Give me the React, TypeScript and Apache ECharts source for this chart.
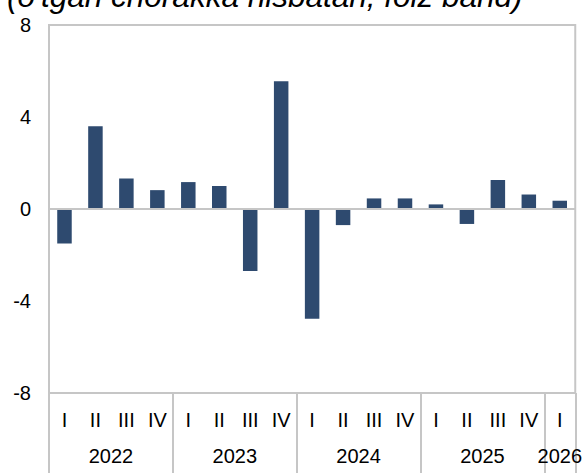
import React, { useEffect, useRef } from "react";
import * as echarts from "echarts";

const categories = [
  "2022 I", "2022 II", "2022 III", "2022 IV",
  "2023 I", "2023 II", "2023 III", "2023 IV",
  "2024 I", "2024 II", "2024 III", "2024 IV",
  "2025 I", "2025 II", "2025 III", "2025 IV",
  "2026 I",
];
const values = [
  -1.5, 3.6, 1.33, 0.82,
  1.17, 1.0, -2.7, 5.55,
  -4.77, -0.7, 0.46, 0.46,
  0.2, -0.65, 1.26, 0.63,
  0.36,
];
const yTicks = { min: -8, max: 8, interval: 4 };
const titleText = "(o'tgan chorakka nisbatan, foiz band)";

const quarterOf = (c: string) => c.split(" ")[1];
const yearOf = (c: string) => c.split(" ")[0];

// year label placement (derived from categories)
const yearLabelAt: Record<number, string> = {};
{
  let i = 0;
  while (i < categories.length) {
    const y = yearOf(categories[i]);
    let j = i;
    while (j < categories.length && yearOf(categories[j]) === y) j++;
    const count = j - i;
    if (count % 2 === 0) yearLabelAt[i + count / 2 - 1] = `{s|${y}}`;
    else yearLabelAt[i + (count - 1) / 2] = `{c|${y}}`;
    i = j;
  }
}
const yearStart = (idx: number) =>
  idx === 0 || yearOf(categories[idx]) !== yearOf(categories[idx - 1]);

const FONT = "'Liberation Sans', Arial, sans-serif";
const GRAY = "#c6c6c6";

export default function App() {
  const ref = useRef<HTMLDivElement>(null);
  useEffect(() => {
    if (!ref.current) return;
    const chart = echarts.init(ref.current, null, { renderer: "svg" });
    chart.setOption({
      animation: false,
      backgroundColor: "#ffffff",
      grid: {
        left: 49,
        right: 9,
        top: 25,
        bottom: 80,
        show: true,
        borderColor: GRAY,
        borderWidth: 2,
        containLabel: false,
      },
      graphic: [
        {
          type: "text",
          left: 7,
          top: -20,
          style: {
            text: titleText,
            font: `italic 31.5px ${FONT}`,
            fill: "#000",
          },
        },
      ],
      xAxis: [
        {
          type: "category",
          data: categories,
          position: "bottom",
          boundaryGap: true,
          axisLine: { show: false, onZero: false },
          axisTick: {
            show: true,
            interval: (idx: number) => yearStart(idx),
            length: 80,
            lineStyle: { color: GRAY, width: 2 },
          },
          axisLabel: {
            interval: 0,
            margin: 17,
            fontSize: 20,
            fontFamily: FONT,
            color: "#000",
            formatter: (v: string) => quarterOf(v),
          },
          splitLine: { show: false },
        },
        {
          type: "category",
          data: categories,
          position: "bottom",
          boundaryGap: true,
          axisLine: { show: false, onZero: false },
          axisTick: { show: false },
          axisLabel: {
            interval: 0,
            margin: 53,
            fontSize: 20,
            fontFamily: FONT,
            color: "#000",
            formatter: (_v: string, idx: number) => yearLabelAt[idx] || "",
            rich: {
              s: { fontSize: 20, fontFamily: FONT, color: "#000", padding: [0, 0, 0, 31] },
              c: { fontSize: 20, fontFamily: FONT, color: "#000" },
            },
          },
          splitLine: { show: false },
        },
      ],
      yAxis: {
        type: "value",
        min: yTicks.min,
        max: yTicks.max,
        interval: yTicks.interval,
        axisLine: { show: false },
        axisTick: { show: false },
        splitLine: { show: false },
        axisLabel: {
          margin: 18,
          fontSize: 20,
          fontFamily: FONT,
          color: "#000",
        },
      },
      series: [
        {
          type: "bar",
          data: values,
          xAxisIndex: 0,
          barWidth: 14.5,
          itemStyle: { color: "#2e4a6f" },
          markLine: {
            silent: true,
            symbol: "none",
            label: { show: false },
            lineStyle: { color: GRAY, width: 2, type: "solid" },
            data: [{ yAxis: 0 }],
          },
        },
      ],
    });
    return () => chart.dispose();
  }, []);
  return <div ref={ref} style={{ width: 585, height: 473, position: "absolute", left: 0, top: 0 }} />;
}
